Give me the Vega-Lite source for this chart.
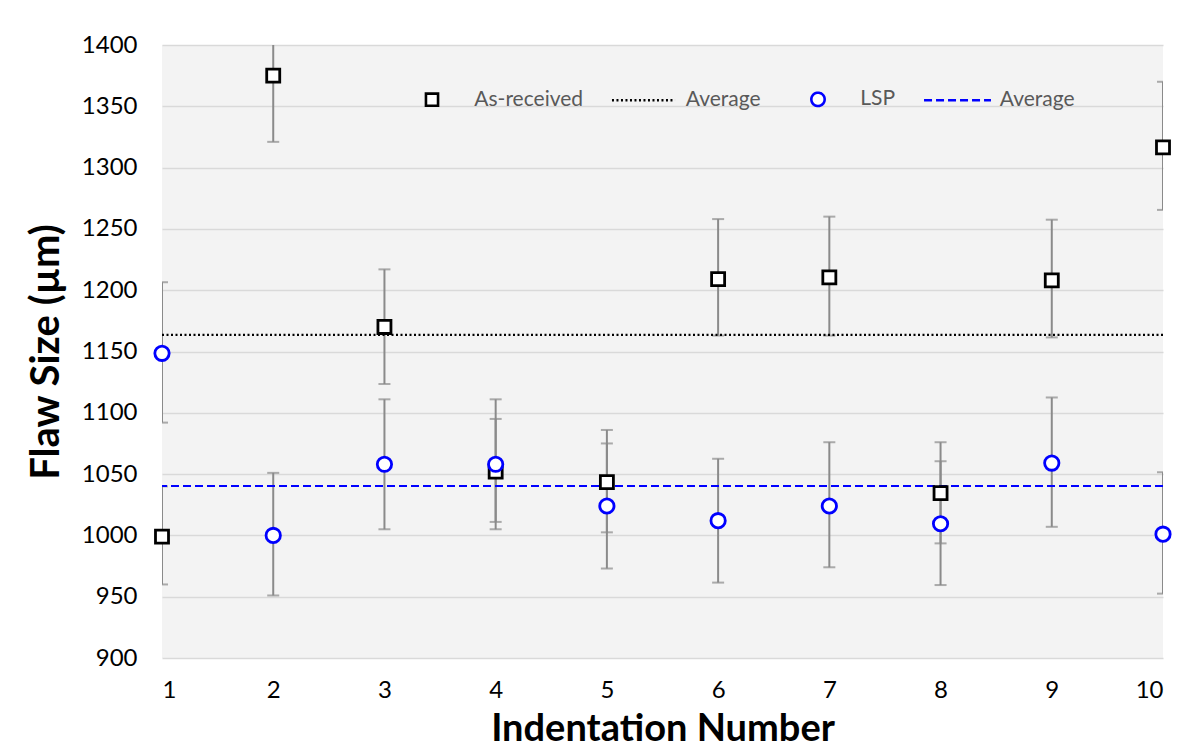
{
  "$schema": "https://vega.github.io/schema/vega-lite/v6.json",
  "width": 1001,
  "height": 613,
  "autosize": "none",
  "padding": {"left": 162, "top": 45, "right": 41, "bottom": 90},
  "background": "white",
  "config": {
    "font": "Lato",
    "view": {"fill": "#f3f3f3", "stroke": null},
    "legend": {"title": null}
  },
  "datasets": {
    "pts": [
      {"idx": 1, "series": "As-received", "value": 999, "lo": 960, "hi": 1040},
      {"idx": 1, "series": "LSP", "value": 1148.5, "lo": 1092, "hi": 1206.5},
      {"idx": 2, "series": "As-received", "value": 1375, "lo": 1321, "hi": 1429},
      {"idx": 2, "series": "LSP", "value": 1000, "lo": 951, "hi": 1051},
      {"idx": 3, "series": "As-received", "value": 1170, "lo": 1123.5, "hi": 1217},
      {"idx": 3, "series": "LSP", "value": 1058, "lo": 1005, "hi": 1111},
      {"idx": 4, "series": "As-received", "value": 1052, "lo": 1011, "hi": 1095},
      {"idx": 4, "series": "LSP", "value": 1058, "lo": 1005, "hi": 1111},
      {"idx": 5, "series": "As-received", "value": 1043.5, "lo": 1002.5, "hi": 1086},
      {"idx": 5, "series": "LSP", "value": 1024, "lo": 973, "hi": 1075},
      {"idx": 6, "series": "As-received", "value": 1209, "lo": 1163, "hi": 1258},
      {"idx": 6, "series": "LSP", "value": 1012, "lo": 961.5, "hi": 1062.5},
      {"idx": 7, "series": "As-received", "value": 1210.5, "lo": 1163, "hi": 1260},
      {"idx": 7, "series": "LSP", "value": 1024, "lo": 974, "hi": 1076},
      {"idx": 8, "series": "As-received", "value": 1034.5, "lo": 993.5, "hi": 1076},
      {"idx": 8, "series": "LSP", "value": 1009.5, "lo": 959.5, "hi": 1060.5},
      {"idx": 9, "series": "As-received", "value": 1208, "lo": 1161.5, "hi": 1257.5},
      {"idx": 9, "series": "LSP", "value": 1059, "lo": 1007, "hi": 1112.5},
      {"idx": 10, "series": "As-received", "value": 1316.5, "lo": 1265.5, "hi": 1370},
      {"idx": 10, "series": "LSP", "value": 1001, "lo": 952.5, "hi": 1051.5}
    ],
    "avg": [
      {"series": "Average (As-received)", "avg": 1163.5},
      {"series": "Average (LSP)", "avg": 1040.3}
    ]
  },
  "layer": [
    {
      "data": {"name": "pts"},
      "mark": {"type": "rule", "color": "#8a8a8a", "strokeWidth": 2, "clip": true},
      "encoding": {
        "x": {"field": "idx", "type": "quantitative", "scale": {"domain": [1, 10], "nice": false, "zero": false},
          "axis": {"values": [1,2,3,4,5,6,7,8,9,10], "format": "d", "title": "Indentation Number", "grid": false, "domain": false, "ticks": false,
            "labelFontSize": 24, "labelColor": "#000000", "labelPadding": 20, "titleFontSize": 38, "titleFontWeight": "bold", "titleColor": "#000000", "titlePadding": 8}},
        "y": {"field": "lo", "type": "quantitative", "scale": {"domain": [900, 1400], "nice": false, "zero": false},
          "axis": {"values": [900,950,1000,1050,1100,1150,1200,1250,1300,1350,1400], "format": "d", "title": "Flaw Size (µm)", "grid": true, "gridColor": "#d9d9d9", "gridWidth": 1.5, "domain": false, "ticks": false,
            "labelFontSize": 24, "labelColor": "#000000", "labelPadding": 25, "titleFontSize": 40, "titleFontWeight": "bold", "titleColor": "#000000", "titlePadding": 15}},
        "y2": {"field": "hi"}
      }
    },
    {
      "data": {"name": "pts"},
      "mark": {"type": "tick", "orient": "horizontal", "color": "#8a8a8a", "size": 12, "thickness": 2, "clip": true},
      "encoding": {
        "x": {"field": "idx", "type": "quantitative"},
        "y": {"field": "lo", "type": "quantitative"}
      }
    },
    {
      "data": {"name": "pts"},
      "mark": {"type": "tick", "orient": "horizontal", "color": "#8a8a8a", "size": 12, "thickness": 2, "clip": true},
      "encoding": {
        "x": {"field": "idx", "type": "quantitative"},
        "y": {"field": "hi", "type": "quantitative"}
      }
    },
    {
      "data": {"name": "avg"},
      "mark": {"type": "rule", "strokeWidth": 2.2},
      "encoding": {
        "y": {"field": "avg", "type": "quantitative"},
        "color": {"field": "series", "type": "nominal",
          "scale": {"domain": ["As-received", "Average (As-received)", "LSP", "Average (LSP)"], "range": ["#000000", "#000000", "#0000FF", "#0000FF"]},
          "legend": {"title": null, "orient": "none", "legendX": 236, "legendY": 20.3, "direction": "horizontal", "columns": 4, "columnPadding": 22.5,
            "labelFontSize": 21, "labelColor": "#595959", "labelFont": "Lato", "labelOffset": 8.3, "symbolSize": 4225, "symbolStrokeWidth": 2.6,
            "labelExpr": "indexof(datum.label, 'Average') == 0 ? 'Average' : datum.label",
            "encode": {"symbols": {"update": {"fill": {"value": "white"}}}}}},
        "strokeDash": {"field": "series", "type": "nominal",
          "scale": {"domain": ["As-received", "Average (As-received)", "LSP", "Average (LSP)"], "range": [[1, 0], [2, 2.5], [1, 0], [8, 4]]},
          "legend": {"title": null}}
      }
    },
    {
      "data": {"name": "pts"},
      "mark": {"type": "point", "filled": false, "fill": "white", "fillOpacity": 1, "opacity": 1, "strokeWidth": 2.8, "size": 4900},
      "encoding": {
        "x": {"field": "idx", "type": "quantitative"},
        "y": {"field": "value", "type": "quantitative"},
        "color": {"field": "series", "type": "nominal"},
        "shape": {"field": "series", "type": "nominal",
          "scale": {"domain": ["As-received", "Average (As-received)", "LSP", "Average (LSP)"],
            "range": ["M-0.186,-0.186H0.186V0.186H-0.186Z", "M-0.97,0H0.97", "M0.205,0C0.205,0.1132,0.1132,0.205,0,0.205C-0.1132,0.205,-0.205,0.1132,-0.205,0C-0.205,-0.1132,-0.1132,-0.205,0,-0.205C0.1132,-0.205,0.205,-0.1132,0.205,0Z", "M-1.03,0H1.03"]},
          "legend": null}
      }
    }
  ]
}
